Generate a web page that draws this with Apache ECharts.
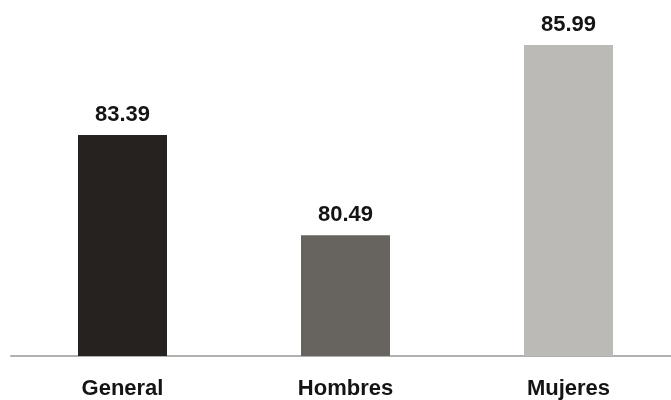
<!DOCTYPE html>
<html>
<head>
<meta charset="utf-8">
<style>
  html, body { margin: 0; padding: 0; background: #ffffff; overflow: hidden; }
  /* drawing surface runs slightly past the right edge so the last band is cut off */
  #chart { width: 680px; height: 400px; }
</style>
<script src="https://cdn.jsdelivr.net/npm/echarts@6/dist/echarts.min.js"></script>
</head>
<body>
<div id="chart"></div>
<script>
// Categories and values
const categories = ['General', 'Hombres', 'Mujeres'];
const values = [83.39, 80.49, 85.99];
const barColors = ['#252220', '#67635e', '#bbbab6'];

const chart = echarts.init(document.getElementById('chart'), null, { renderer: 'canvas' });

chart.setOption({
  animation: false,
  backgroundColor: '#ffffff',
  grid: { left: 11, right: 0, top: 10, height: 350, containLabel: false },
  xAxis: {
    type: 'category',
    data: categories,
    axisLine: { show: true, lineStyle: { color: '#b0b0ae', width: 2 } },
    axisTick: { show: false },
    axisLabel: {
      margin: 22,
      color: '#141414',
      fontFamily: 'Liberation Sans, Arial, sans-serif',
      fontWeight: 'bold',
      fontSize: 22
    }
  },
  yAxis: {
    type: 'value',
    min: 77,
    max: 87,
    show: false,
    splitLine: { show: false }
  },
  series: [{
    type: 'bar',
    barWidth: 89,
    data: values.map((v, i) => ({ value: v, itemStyle: { color: barColors[i] } })),
    label: {
      show: true,
      position: 'top',
      distance: 9,
      color: '#141414',
      fontFamily: 'Liberation Sans, Arial, sans-serif',
      fontWeight: 'bold',
      fontSize: 22,
      formatter: p => p.value.toFixed(2)
    }
  }]
});
</script>
</body>
</html>
